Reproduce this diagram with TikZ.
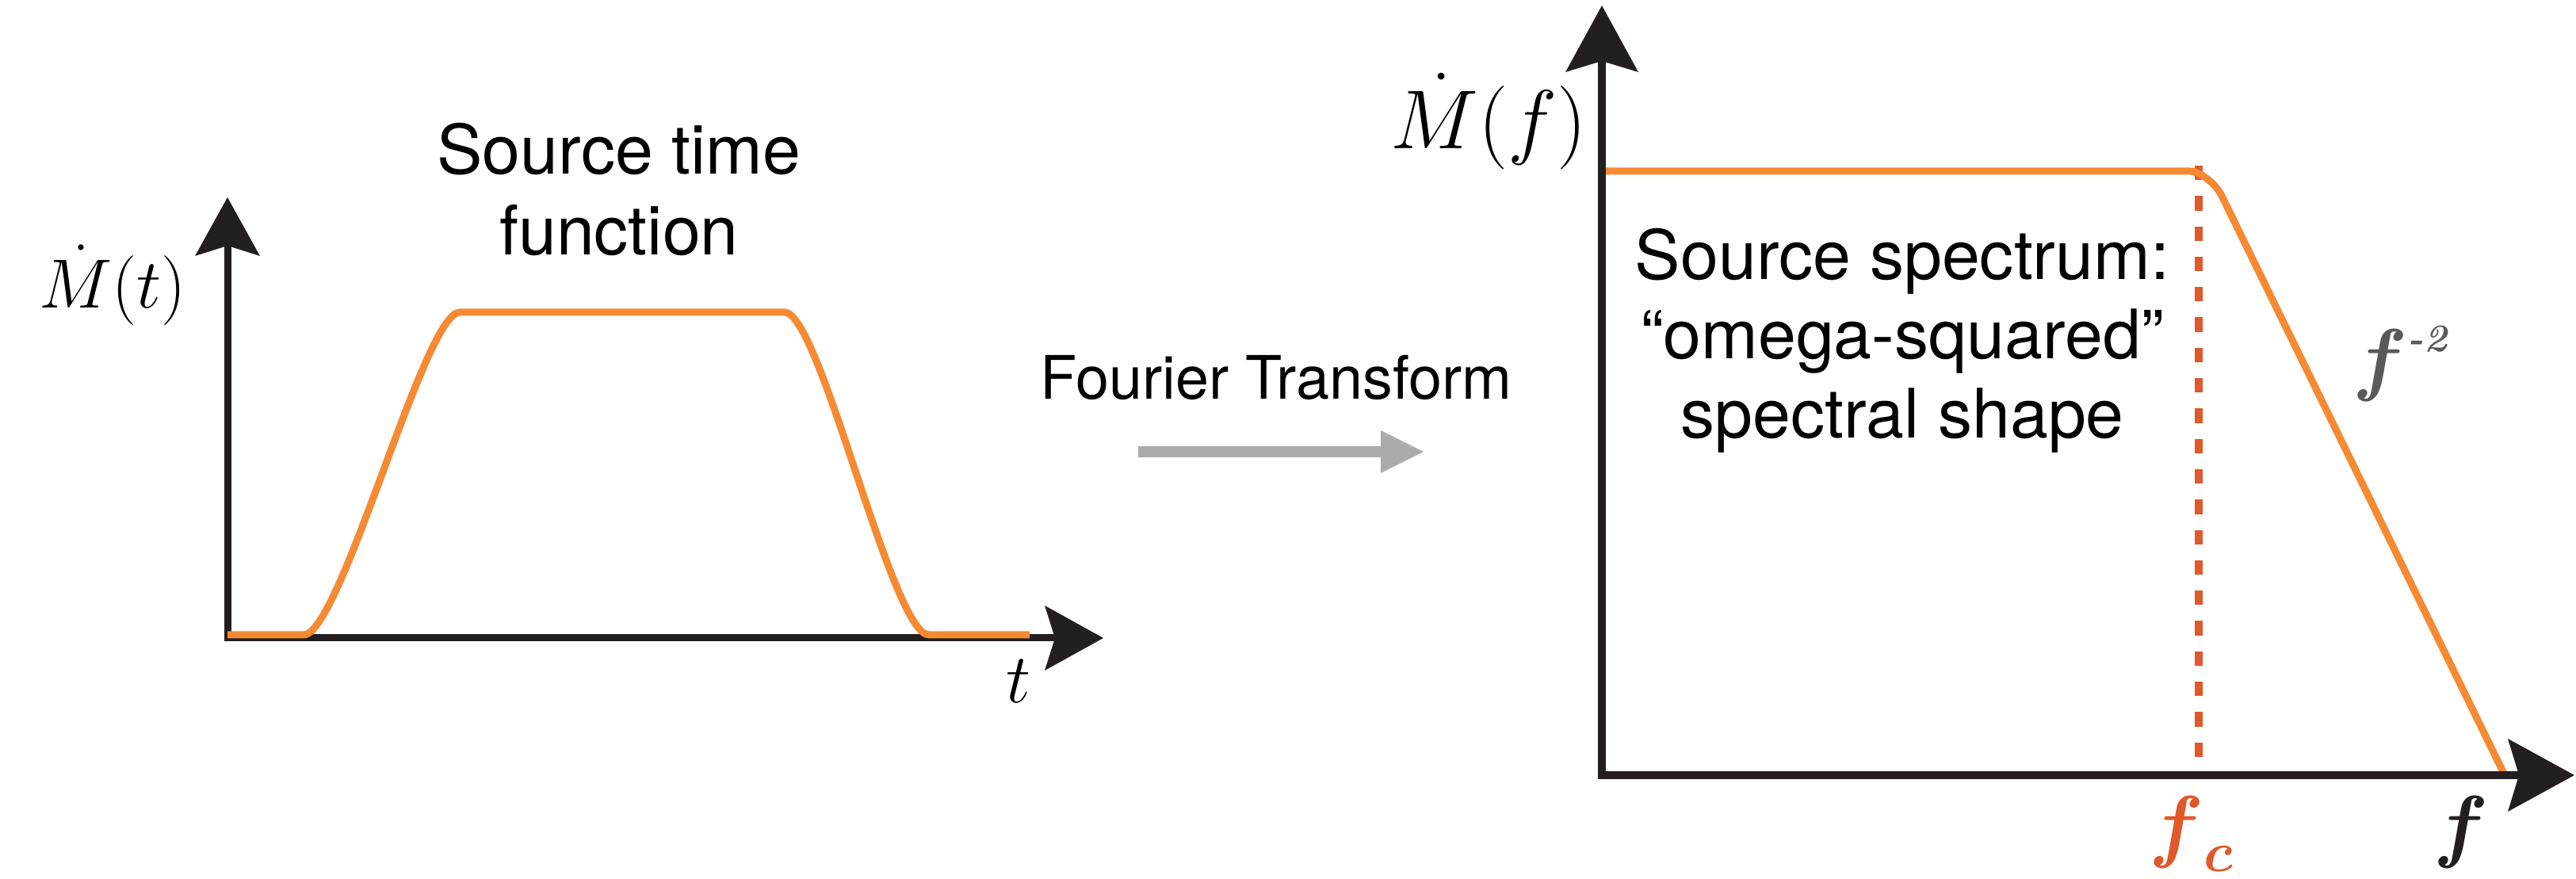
\RequirePackage{fix-cm}
\documentclass[tikz,border=0pt]{standalone}
\usepackage{xcolor}
\usepackage{tikz}
\usetikzlibrary{arrows.meta}
\usepackage{amsmath,amssymb}
\usepackage{fontspec}
\newfontfamily\helv{TeX Gyre Heros}
\definecolor{stfOrange}{HTML}{F68A33}
\definecolor{cornerRed}{HTML}{E0592A}
\definecolor{axisBlack}{HTML}{231F20}
\definecolor{arrowGray}{HTML}{ABABAB}
\definecolor{slopeGray}{HTML}{58595B}

\begin{document}
\begin{tikzpicture}[
    axisL/.style={line width=0.09cm, axisBlack, line join=miter,
      {Stealth[length=0.74cm,width=0.82cm,inset=0.13cm,line width=0pt]}-{Stealth[length=0.74cm,width=0.82cm,inset=0.13cm,line width=0pt]}},
    axisR/.style={line width=0.1cm, axisBlack, line join=miter,
      {Stealth[length=0.84cm,width=0.92cm,inset=0.14cm,line width=0pt]}-{Stealth[length=0.84cm,width=0.92cm,inset=0.14cm,line width=0pt]}},
    curve/.style={line width=0.09cm, stfOrange, line join=round},
    mlabel/.style={anchor=base, inner sep=0pt},
    htext/.style={font=\helv\fontsize{24.5}{28.5}\selectfont, align=center, anchor=base, inner sep=0pt}]
      \useasboundingbox (0,0) rectangle (32.5,11.09);

      % Left panel: source time function
      \coordinate (OL) at (2.87,3.04);
      \coordinate (yTipL) at (2.87,8.60);
      \coordinate (xTipL) at (13.92,3.04);
      \draw[axisL] (yTipL) -- (OL) -- (xTipL);
      \draw[curve] (2.87,3.08) -- (3.83,3.08)
        .. controls (4.30,3.08) and (5.35,7.15) .. (5.80,7.15) -- (9.90,7.15)
        .. controls (10.35,7.15) and (11.25,3.08) .. (11.72,3.08) -- (12.99,3.08);
      \node[mlabel, font=\fontsize{25}{30}\selectfont] (mdotT) at (1.42,7.20) {$\dot{M}(t)$};
      \node[mlabel, font=\fontsize{25}{30}\selectfont] (tLab) at (12.85,2.22) {$t$};
      % base of a two-line node sits on its last line
      \node[htext, font=\helv\fontsize{24.5}{29.3}\selectfont] (stfTitle) at (7.81,7.87) {Source time\\function};

      % Fourier transform arrow
      \coordinate (ftA) at (14.36,5.39);
      \coordinate (ftB) at (17.96,5.39);
      \draw[arrowGray, line width=0.14cm, -{Triangle[length=0.54cm,width=0.54cm,line width=0pt]}] (ftA) -- (ftB);
      \node[htext, font=\helv\fontsize{21.5}{26}\selectfont] (ftLab) at (16.10,6.05) {Fourier Transform};

      % Right panel: source spectrum
      \coordinate (OR) at (20.21,1.31);
      \coordinate (yTipR) at (20.21,11.02);
      \coordinate (xTipR) at (32.48,1.31);
      \coordinate (fcTop) at (27.74,9.00);
      \coordinate (fcBot) at (27.74,1.31);
      \draw[cornerRed, line width=0.1cm, dash pattern=on 0.183cm off 0.2cm] (fcTop) -- (fcBot);
      \draw[curve] (20.21,8.93) -- (27.63,8.93)
        .. controls (27.75,8.93) and (27.95,8.78) .. (28.03,8.62) -- (31.60,1.31);
      \draw[axisR] (yTipR) -- (OR) -- (xTipR);
      \node[mlabel, font=\fontsize{30}{36}\selectfont] (mdotF) at (18.78,9.21) {$\dot{M}(f)$};
      \node[htext] (specTitle) at (24.00,5.56) {Source spectrum:\\“omega-squared”\\spectral shape};
      \node[anchor=base west, inner sep=0pt, text=slopeGray, font=\fontsize{29}{34}\selectfont] (slopeLab) at (29.68,6.22)
        {$\boldsymbol{f}^{\text{\fontsize{14}{14}\selectfont\bfseries\itshape -2}}$};
      \node[mlabel, text=cornerRed, font=\fontsize{29}{34}\selectfont] (fcLab) at (27.65,0.33) {$\boldsymbol{f}_{\boldsymbol{c}}$};
      \node[mlabel, text=axisBlack, font=\fontsize{29}{34}\selectfont] (fLab) at (31.05,0.33) {$\boldsymbol{f}$};
\end{tikzpicture}
\end{document}
